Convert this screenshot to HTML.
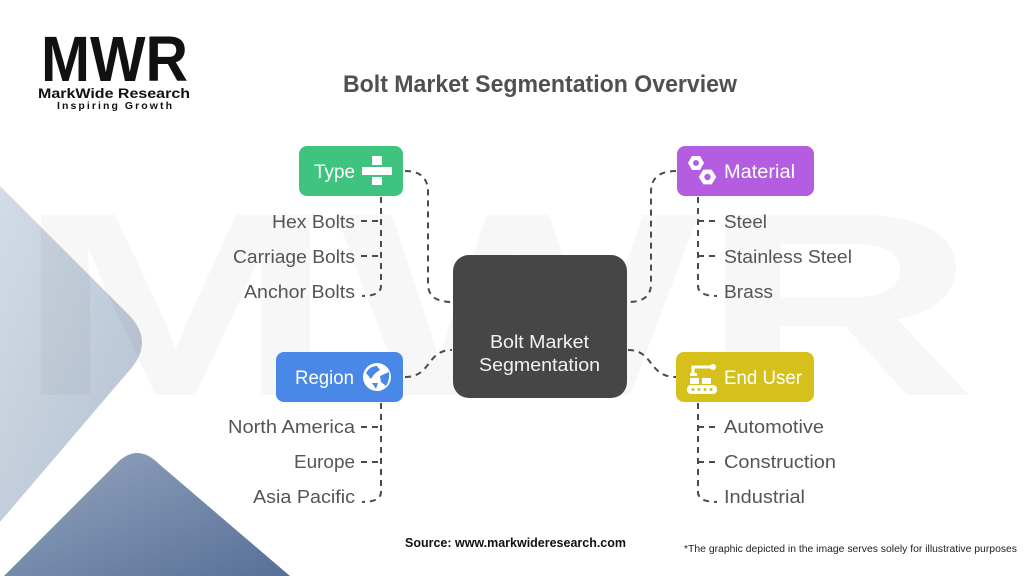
<!DOCTYPE html>
<html><head><meta charset="utf-8"><style>
html,body{margin:0;padding:0;background:#fff;}
svg{display:block;}
text{font-family:"Liberation Sans",Arial,sans-serif;}
</style></head><body>
<svg width="1024" height="576" viewBox="0 0 1024 576" xmlns="http://www.w3.org/2000/svg">
<defs>
<linearGradient id="gl" x1="0" y1="0" x2="1" y2="1">
<stop offset="0" stop-color="#d3dbe5"/><stop offset="1" stop-color="#b4c1d2"/>
</linearGradient>
<linearGradient id="gd" x1="0" y1="0" x2="1" y2="1">
<stop offset="0" stop-color="#95a6bf"/><stop offset="1" stop-color="#566f96"/>
</linearGradient>
</defs>
<rect width="1024" height="576" fill="#fff"/>
<!-- background shapes -->
<path d="M0,186 L128,314 Q156,342 128,372 L0,522 Z" fill="url(#gl)"/>
<path d="M0,580 L116,464 Q137,442 159,464 L290,576 L0,576 Z" fill="url(#gd)"/>
<!-- watermark -->
<text x="15" y="395" font-size="262" font-weight="bold" fill="#000" fill-opacity="0.03" textLength="962" lengthAdjust="spacingAndGlyphs">MWR</text>

<!-- logo -->
<text x="41" y="81" font-size="64" font-weight="bold" fill="#111" textLength="147" lengthAdjust="spacingAndGlyphs">MWR</text>
<text x="38" y="98" font-size="13.5" font-weight="bold" fill="#111" textLength="152" lengthAdjust="spacingAndGlyphs">MarkWide Research</text>
<text x="57" y="109" font-size="10.5" font-weight="bold" fill="#111" textLength="115" lengthAdjust="spacing">Inspiring Growth</text>

<!-- title -->
<text x="343" y="92" font-size="24" font-weight="bold" fill="#505050" textLength="394" lengthAdjust="spacingAndGlyphs">Bolt Market Segmentation Overview</text>

<!-- connectors -->
<g fill="none" stroke="#4a4a4a" stroke-width="2" stroke-dasharray="6 5">
<path d="M405,171 Q428,171 428,192 L428,284 Q428,302 452,302"/>
<path d="M676,171 Q651,171 651,192 L651,284 Q651,302 628,302"/>
<path d="M405,377 C432,377 426,350 452,350"/>
<path d="M628,350 C654,350 648,377 676,377"/>
<!-- Type list -->
<path d="M381,197 L381,286 Q381,296 362,296"/>
<path d="M361,221 L381,221"/>
<path d="M361,256 L381,256"/>
<!-- Region list -->
<path d="M381,403 L381,492 Q381,502 362,502"/>
<path d="M361,427 L381,427"/>
<path d="M361,462 L381,462"/>
<!-- Material list -->
<path d="M698,197 L698,286 Q698,296 717,296"/>
<path d="M698,221 L718,221"/>
<path d="M698,256 L718,256"/>
<!-- End user list -->
<path d="M698,403 L698,492 Q698,502 717,502"/>
<path d="M698,427 L718,427"/>
<path d="M698,462 L718,462"/>
</g>

<!-- center -->
<rect x="453" y="255" width="174" height="143" rx="16" fill="#464646"/>
<text x="490" y="348" font-size="18" fill="#f2f2f2" textLength="99" lengthAdjust="spacingAndGlyphs">Bolt Market</text>
<text x="479" y="371" font-size="18" fill="#f2f2f2" textLength="121" lengthAdjust="spacingAndGlyphs">Segmentation</text>

<!-- Type -->
<rect x="299" y="146" width="104" height="50" rx="8" fill="#3fc47f"/>
<text x="314" y="178" font-size="19" fill="#fff" textLength="41" lengthAdjust="spacingAndGlyphs">Type</text>
<rect x="372" y="156" width="10" height="9" fill="#fff"/>
<rect x="362" y="167" width="30" height="8" fill="#fff"/>
<rect x="372" y="177" width="10" height="8" fill="#fff"/>

<!-- Material -->
<rect x="677" y="146" width="137" height="50" rx="8" fill="#b55de0"/>
<text x="724" y="178" font-size="19" fill="#fff" textLength="71" lengthAdjust="spacingAndGlyphs">Material</text>
<polygon points="688,163 692,156 700,156 704,163 700,170 692,170" fill="#fff"/>
<circle cx="696" cy="163" r="3" fill="#b55de0"/>
<polygon points="698,177 703,169 712,169 717,177 712,185 703,185" fill="#fff" stroke="#b55de0" stroke-width="1.2"/>
<circle cx="707.5" cy="177" r="3.2" fill="#b55de0"/>

<!-- Region -->
<rect x="276" y="352" width="127" height="50" rx="8" fill="#4a88e8"/>
<text x="295" y="384" font-size="19" fill="#fff" textLength="59" lengthAdjust="spacingAndGlyphs">Region</text>
<circle cx="377" cy="377" r="14" fill="#fff"/>
<path d="M366,373 Q370,366 377,366 L380,370 Q374,373 371,379 Z" fill="#4a88e8"/>
<path d="M380,376 L389,372 Q390,380 386,386 L381,382 Z" fill="#4a88e8"/>
<path d="M372,383 L378,383 L376,389 Z" fill="#4a88e8"/>

<!-- End User -->
<rect x="676" y="352" width="138" height="50" rx="8" fill="#d6c01c"/>
<text x="724" y="384" font-size="19" fill="#fff" textLength="78" lengthAdjust="spacingAndGlyphs">End User</text>
<rect x="687" y="385" width="30" height="9" rx="4" fill="#fff"/>
<circle cx="693" cy="389.5" r="1.5" fill="#d6c01c"/>
<circle cx="699" cy="389.5" r="1.5" fill="#d6c01c"/>
<circle cx="705" cy="389.5" r="1.5" fill="#d6c01c"/>
<circle cx="711" cy="389.5" r="1.5" fill="#d6c01c"/>
<rect x="690" y="378" width="9" height="6" fill="#fff"/>
<rect x="702" y="378" width="9" height="6" fill="#fff"/>
<path d="M693,375 L693,367 L711,367" stroke="#fff" stroke-width="3" fill="none"/>
<circle cx="713" cy="367" r="3" fill="#fff"/>
<rect x="690" y="373" width="7" height="3" fill="#fff"/>

<!-- list labels -->
<g font-size="18" fill="#555">
<text x="272" y="228" textLength="83" lengthAdjust="spacingAndGlyphs">Hex Bolts</text>
<text x="233" y="263" textLength="122" lengthAdjust="spacingAndGlyphs">Carriage Bolts</text>
<text x="244" y="298" textLength="111" lengthAdjust="spacingAndGlyphs">Anchor Bolts</text>
<text x="228" y="433" textLength="127" lengthAdjust="spacingAndGlyphs">North America</text>
<text x="294" y="468" textLength="61" lengthAdjust="spacingAndGlyphs">Europe</text>
<text x="253" y="503" textLength="102" lengthAdjust="spacingAndGlyphs">Asia Pacific</text>
<text x="724" y="228" textLength="43" lengthAdjust="spacingAndGlyphs">Steel</text>
<text x="724" y="263" textLength="128" lengthAdjust="spacingAndGlyphs">Stainless Steel</text>
<text x="724" y="298" textLength="49" lengthAdjust="spacingAndGlyphs">Brass</text>
<text x="724" y="433" textLength="100" lengthAdjust="spacingAndGlyphs">Automotive</text>
<text x="724" y="468" textLength="112" lengthAdjust="spacingAndGlyphs">Construction</text>
<text x="724" y="503" textLength="81" lengthAdjust="spacingAndGlyphs">Industrial</text>
</g>

<!-- footer -->
<text x="405" y="547" font-size="13" font-weight="bold" fill="#111" textLength="221" lengthAdjust="spacingAndGlyphs">Source: www.markwideresearch.com</text>
<text x="684" y="552" font-size="10" fill="#222" textLength="333" lengthAdjust="spacingAndGlyphs">*The graphic depicted in the image serves solely for illustrative purposes</text>
</svg>
</body></html>
